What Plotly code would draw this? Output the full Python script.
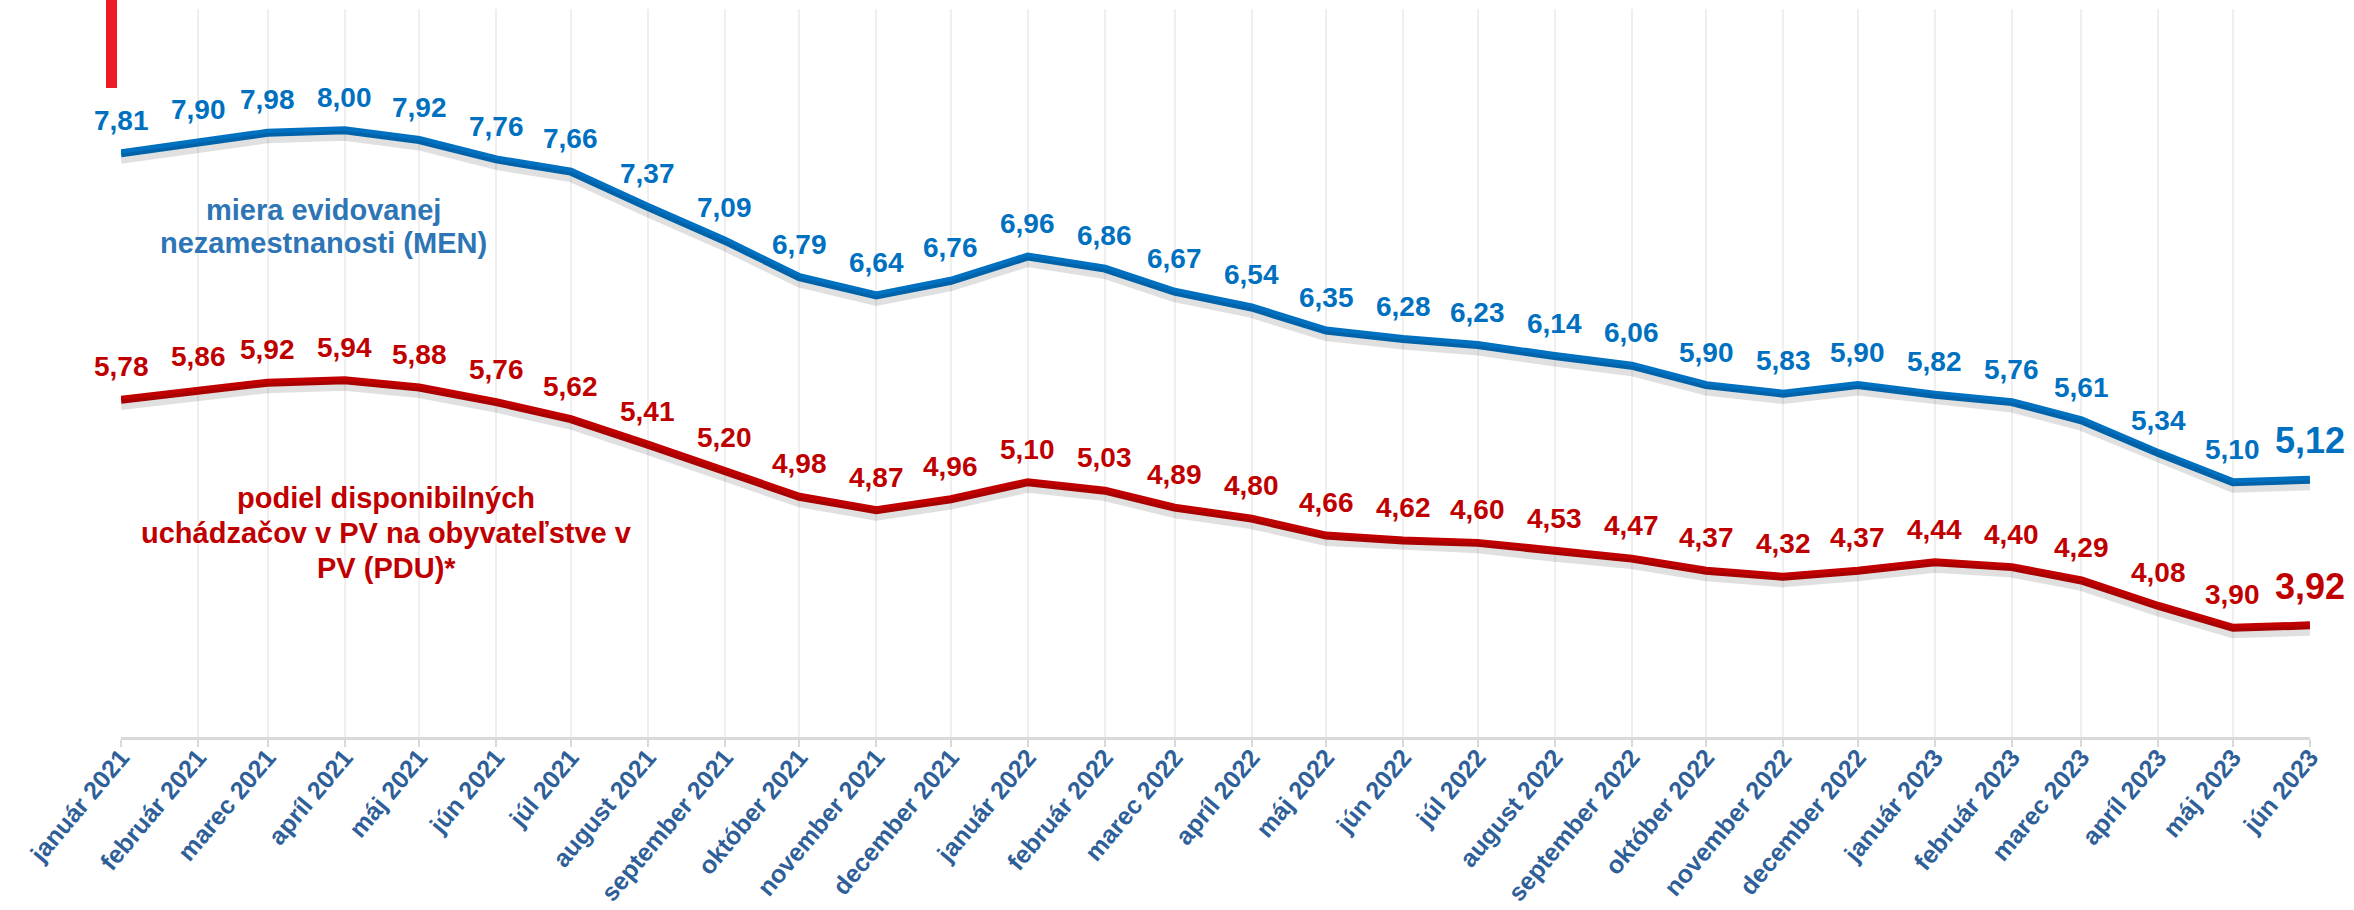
import plotly.graph_objects as go

# ---------------- data ----------------
months = [
    "2021-01-01", "2021-02-01", "2021-03-01", "2021-04-01", "2021-05-01", "2021-06-01",
    "2021-07-01", "2021-08-01", "2021-09-01", "2021-10-01", "2021-11-01", "2021-12-01",
    "2022-01-01", "2022-02-01", "2022-03-01", "2022-04-01", "2022-05-01", "2022-06-01",
    "2022-07-01", "2022-08-01", "2022-09-01", "2022-10-01", "2022-11-01", "2022-12-01",
    "2023-01-01", "2023-02-01", "2023-03-01", "2023-04-01", "2023-05-01", "2023-06-01",
]
tick_labels = [
    "január 2021", "február 2021", "marec 2021", "apríl 2021", "máj 2021", "jún 2021",
    "júl 2021", "august 2021", "september 2021", "október 2021", "november 2021", "december 2021",
    "január 2022", "február 2022", "marec 2022", "apríl 2022", "máj 2022", "jún 2022",
    "júl 2022", "august 2022", "september 2022", "október 2022", "november 2022", "december 2022",
    "január 2023", "február 2023", "marec 2023", "apríl 2023", "máj 2023", "jún 2023",
]
men = [7.81, 7.90, 7.98, 8.00, 7.92, 7.76, 7.66, 7.37, 7.09, 6.79, 6.64, 6.76,
       6.96, 6.86, 6.67, 6.54, 6.35, 6.28, 6.23, 6.14, 6.06, 5.90, 5.83, 5.90,
       5.82, 5.76, 5.61, 5.34, 5.10, 5.12]
pdu = [5.78, 5.86, 5.92, 5.94, 5.88, 5.76, 5.62, 5.41, 5.20, 4.98, 4.87, 4.96,
       5.10, 5.03, 4.89, 4.80, 4.66, 4.62, 4.60, 4.53, 4.47, 4.37, 4.32, 4.37,
       4.44, 4.40, 4.29, 4.08, 3.90, 3.92]
men_name = ["miera evidovanej", "nezamestnanosti (MEN)"]
pdu_name = ["podiel disponibilných", "uchádzačov v PV na obyvateľstve v", "PV (PDU)*"]

# ---------------- style ----------------
BLUE = "#0070C0"
RED = "#C00000"
BLUE_TXT = "#2E75B6"
TICK_COL = "#2F5F98"
FONT = "Liberation Sans"
Y_RANGE = [3, 9]
SHADOW_SHIFT = 0.045

fig = go.Figure()

# soft drop shadows (same data, on a slightly shifted overlay axis)
for vals in (men, pdu):
    fig.add_trace(go.Scatter(
        x=months, y=vals, mode="lines", yaxis="y2",
        line=dict(color="rgba(0,0,0,0.12)", width=10),
        hoverinfo="skip", showlegend=False))

fig.add_trace(go.Scatter(x=months, y=men, mode="lines", name="MEN",
                         line=dict(color=BLUE, width=8)))
fig.add_trace(go.Scatter(x=months, y=pdu, mode="lines", name="PDU",
                         line=dict(color=RED, width=8)))

annotations = []
n = len(months)
for vals, col in ((men, BLUE), (pdu, RED)):
    for i, (d, v) in enumerate(zip(months, vals)):
        last = i == n - 1
        annotations.append(dict(
            x=d, y=v, xref="x", yref="y",
            text=f"{v:.2f}".replace(".", ","),
            showarrow=False, xanchor="center", yanchor="middle",
            yshift=39 if last else 33,
            font=dict(family=FONT, size=36 if last else 28, color=col, weight="bold")))

for txt, yp in zip(men_name, [0.7239, 0.6786]):
    annotations.append(dict(
        x=0.0923, y=yp, xref="paper", yref="paper", text=txt, showarrow=False,
        xanchor="center", yanchor="middle",
        font=dict(family=FONT, size=29, color=BLUE_TXT, weight="bold")))
for txt, yp in zip(pdu_name, [0.3280, 0.2800, 0.2320]):
    annotations.append(dict(
        x=0.1211, y=yp, xref="paper", yref="paper", text=txt, showarrow=False,
        xanchor="center", yanchor="middle",
        font=dict(family=FONT, size=29, color=RED, weight="bold")))

shapes = [
    # red decorative bar top-left
    dict(type="rect", xref="paper", yref="paper", x0=-0.00685, x1=-0.00183,
         y0=0.8915, y1=1.0124, fillcolor="#ED1C24", line=dict(width=0), layer="above"),
    # white boxes behind the series names (cover gridlines)
    dict(type="rect", xref="paper", yref="paper", x0=0.0014, x1=0.205,
         y0=0.5755, y1=0.7624, fillcolor="white", line=dict(width=0), layer="between"),
    dict(type="rect", xref="paper", yref="paper", x0=0.0014, x1=0.237,
         y0=0.195, y1=0.3654, fillcolor="white", line=dict(width=0), layer="between"),
]

fig.update_layout(
    width=2354, height=910,
    margin=dict(l=121, r=44, t=9, b=173, autoexpand=False),
    paper_bgcolor="white", plot_bgcolor="white",
    showlegend=False,
    annotations=annotations,
    shapes=shapes,
    xaxis=dict(
        type="date", range=[months[0], months[-1]], automargin=False,
        tickmode="array", tickvals=months, ticktext=tick_labels,
        tickangle=-50, ticklabelstandoff=-14,
        tickfont=dict(family=FONT, size=25, color=TICK_COL, weight="bold"),
        showgrid=True, gridcolor="#EFEFEF", gridwidth=1.5,
        showline=True, linecolor="#D9D9D9", linewidth=2.5,
        ticks="outside", ticklen=7, tickwidth=2, tickcolor="#D9D9D9",
        zeroline=False, fixedrange=True,
    ),
    yaxis=dict(range=Y_RANGE, visible=False, showgrid=False, zeroline=False,
               automargin=False),
    yaxis2=dict(range=[Y_RANGE[0] + SHADOW_SHIFT, Y_RANGE[1] + SHADOW_SHIFT],
                overlaying="y", visible=False, showgrid=False, zeroline=False,
                automargin=False),
)

fig.write_html(
    "out.html",
    config={"displayModeBar": False},
    post_script="document.body.style.margin='0';document.body.style.padding='0';",
)
